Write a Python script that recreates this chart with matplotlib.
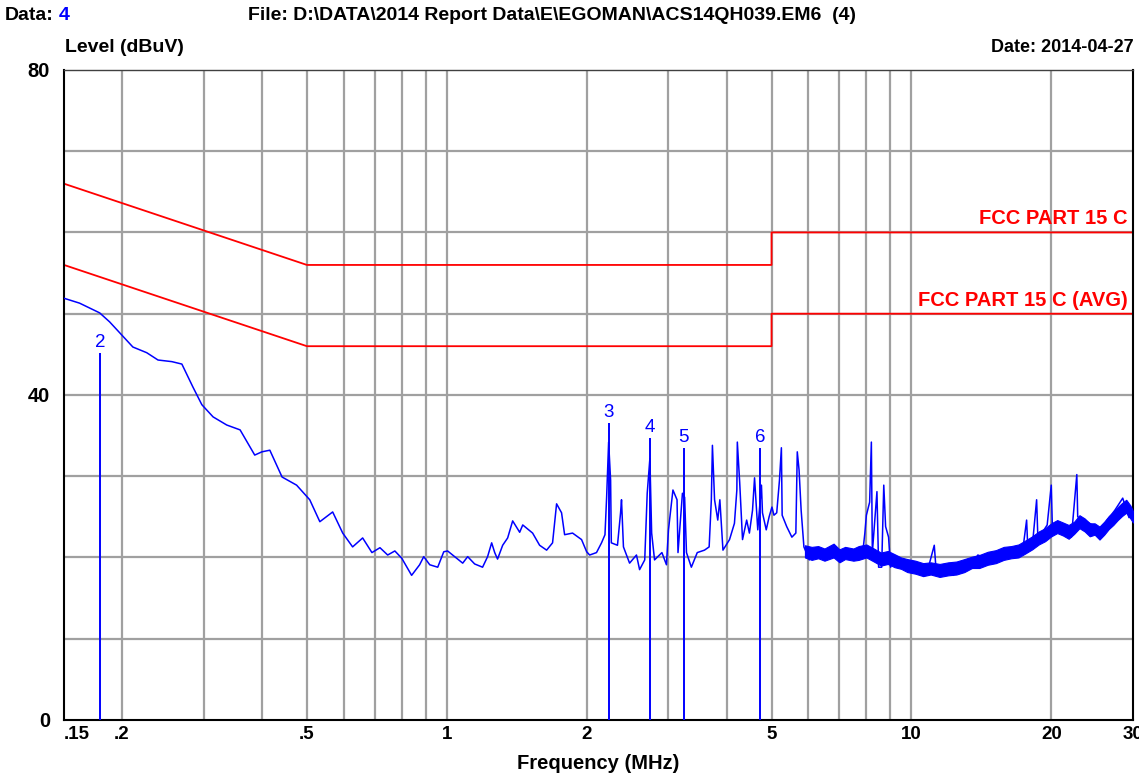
import numpy as np
import matplotlib
matplotlib.use("Agg")
import matplotlib.pyplot as plt
from matplotlib.ticker import FixedLocator, NullFormatter
from matplotlib.transforms import offset_copy

plt.rcParams['font.family'] = ['Liberation Sans', 'DejaVu Sans']

trace_f = [0.150, 0.162, 0.179, 0.188, 0.198, 0.211, 0.226, 0.239, 0.256, 0.269,
           0.284, 0.297, 0.314, 0.336, 0.359, 0.386, 0.400, 0.416, 0.442, 0.475,
           0.507, 0.533, 0.568, 0.597, 0.627, 0.659, 0.690, 0.718, 0.746, 0.773,
           0.800, 0.840, 0.874, 0.892, 0.919, 0.956, 0.985, 1.004, 1.082, 1.109,
           1.148, 1.194, 1.224, 1.249, 1.268, 1.286, 1.319, 1.352, 1.386, 1.435,
           1.457, 1.530, 1.584, 1.640, 1.689, 1.723, 1.766, 1.793, 1.865, 1.950,
           2.000, 2.030, 2.100, 2.153, 2.190, 2.208, 2.230, 2.252, 2.260, 2.330,
           2.366, 2.377, 2.400, 2.474, 2.560, 2.600, 2.667, 2.700, 2.736, 2.760,
           2.800, 2.904, 2.970, 3.000, 3.067, 3.130, 3.145, 3.215, 3.250, 3.280,
           3.360, 3.460, 3.586, 3.670, 3.710, 3.730, 3.770, 3.830, 3.870, 3.930,
           4.060, 4.160, 4.210, 4.220, 4.270, 4.330, 4.420, 4.480, 4.550, 4.596,
           4.670, 4.756, 4.780, 4.870, 4.940, 5.010, 5.060, 5.130, 5.200, 5.250,
           5.270, 5.390, 5.530, 5.640, 5.680, 5.730, 5.790, 5.870, 6.030, 6.180,
           6.330, 6.440, 6.730, 7.000, 7.250, 7.620, 7.860, 7.940, 8.000, 8.130,
           8.200, 8.240, 8.430, 8.500, 8.630, 8.720, 8.800, 8.930, 9.020, 9.240,
           9.520, 9.820, 10.30, 10.80, 11.20, 11.30, 11.90, 12.30, 12.90, 13.60,
           13.90, 14.50, 15.20, 15.90, 16.70, 17.40, 17.70, 17.80, 18.20, 18.60,
           18.70, 19.10, 19.60, 20.00, 20.10, 21.00, 22.10, 22.70, 22.80, 23.60,
           24.80, 25.60, 26.40, 27.40, 28.50, 29.40, 30.00]
trace_db = [51.9, 51.3, 50.1, 49.0, 47.6, 45.9, 45.2, 44.3, 44.1, 43.8,
            41.0, 38.8, 37.3, 36.3, 35.7, 32.6, 33.0, 33.2, 29.9, 28.9,
            27.1, 24.4, 25.6, 23.0, 21.3, 22.4, 20.6, 21.2, 20.3, 20.8,
            19.9, 17.8, 19.1, 20.1, 19.1, 18.8, 20.7, 20.8, 19.3, 20.1,
            19.2, 18.8, 20.1, 21.8, 20.6, 19.8, 21.5, 22.4, 24.5, 23.1,
            24.0, 23.0, 21.5, 20.9, 21.8, 26.6, 25.5, 22.8, 23.0, 22.2,
            20.7, 20.3, 20.6, 21.8, 22.8, 27.4, 34.2, 29.5, 21.8, 21.5,
            25.5, 27.1, 21.3, 19.3, 20.3, 18.5, 19.7, 27.9, 32.2, 23.0,
            19.7, 20.6, 19.1, 23.4, 28.3, 27.1, 20.6, 27.9, 27.4, 20.6,
            18.8, 20.6, 20.9, 21.3, 27.1, 33.8, 27.1, 24.6, 27.1, 20.9,
            22.2, 24.2, 28.3, 34.2, 29.2, 22.2, 24.6, 23.0, 25.8, 29.8,
            23.4, 28.9, 25.5, 23.4, 25.0, 26.2, 25.2, 25.5, 29.5, 33.5,
            25.2, 23.8, 22.5, 23.0, 33.0, 30.8, 25.8, 21.3, 19.7, 20.6,
            20.3, 20.3, 21.3, 19.7, 20.7, 20.3, 20.7, 23.0, 25.2, 26.8,
            34.2, 20.6, 28.1, 18.8, 18.8, 28.9, 23.8, 22.5, 18.8, 20.1,
            19.1, 18.8, 18.2, 18.1, 21.5, 18.5, 18.1, 17.8, 19.3, 19.4,
            20.3, 19.9, 20.6, 20.7, 20.7, 21.3, 24.6, 21.3, 21.3, 27.1,
            23.0, 23.0, 24.0, 28.9, 24.2, 23.4, 22.5, 30.2, 25.0, 24.6,
            23.8, 22.8, 24.6, 25.8, 27.3, 24.9, 25.5]

# dense noise band above ~6 MHz (lower / upper edge of the scribble)
band_f = [5.9, 6.1, 6.3, 6.5, 6.8, 7.0, 7.2, 7.5, 7.7, 8.0, 8.3, 8.6, 8.9, 9.2, 9.5, 9.8,
          10.2, 10.6, 11.0, 11.5, 12.0, 12.5, 13.0, 13.5, 14.0, 14.6, 15.2, 15.8, 16.4,
          17.0, 17.6, 18.2, 18.8, 19.4, 20.0, 20.6, 21.2, 21.8, 22.4, 23.0, 23.6, 24.2,
          24.8, 25.4, 26.0, 26.6, 27.2, 27.8, 28.4, 29.0, 29.6, 30.0]
band_lo = [20.0, 19.7, 19.9, 19.6, 20.0, 19.4, 19.8, 19.6, 19.7, 20.0, 19.5, 19.0, 19.2,
           18.8, 18.6, 18.2, 18.0, 17.7, 17.9, 17.6, 17.8, 17.9, 18.2, 18.7, 18.7, 19.1,
           19.3, 19.7, 19.9, 20.0, 20.5, 21.0, 21.6, 22.0, 22.6, 23.0, 22.7, 22.3, 22.9,
           23.6, 23.2, 22.6, 22.8, 22.2, 22.8, 23.5, 24.0, 24.6, 25.1, 25.5, 24.8, 24.3]
band_hi = [21.5, 21.3, 21.4, 21.1, 21.7, 21.0, 21.3, 21.1, 21.4, 21.6, 21.1, 20.6, 20.8,
           20.4, 20.0, 19.8, 19.6, 19.3, 19.4, 19.2, 19.4, 19.5, 19.8, 20.1, 20.3, 20.7,
           20.9, 21.3, 21.4, 21.6, 22.1, 22.6, 23.2, 23.6, 24.2, 24.6, 24.3, 24.0, 24.4,
           25.2, 24.8, 24.2, 24.2, 23.8, 24.4, 25.1, 25.6, 26.2, 26.7, 27.1, 26.4, 25.7]

# FCC part 15 C limits
qp_f = [0.15, 0.5, 5.0, 5.0, 30.0]
qp_db = [66, 56, 56, 60, 60]
avg_f = [0.15, 0.5, 5.0, 5.0, 30.0]
avg_db = [56, 46, 46, 50, 50]

# peak markers
marker_id = ['2', '3', '4', '5', '6']
marker_f = [0.1795, 2.233, 2.736, 3.237, 4.725]
marker_db = [45.2, 36.6, 34.7, 33.5, 33.5]

xtick_vals = [0.15, 0.2, 0.5, 1, 2, 5, 10, 20, 30]
xtick_labels = ['.15', '.2', '.5', '1', '2', '5', '10', '20', '30']
xgrid_vals = [0.2, 0.3, 0.4, 0.5, 0.6, 0.7, 0.8, 0.9, 1, 2, 3, 4, 5, 6, 7, 8, 9, 10, 20]

blue = '#0000ff'
red = '#ff0000'

fig = plt.figure(figsize=(11.39, 7.78), dpi=100)
ax = fig.add_axes([0.0562, 0.0746, 0.9386, 0.8355])

ax.set_xscale('log')
ax.set_xlim(0.15, 30)
ax.set_ylim(0, 80)

for g in xgrid_vals:
    ax.axvline(g, color='#a0a0a0', lw=1.6, zorder=0)
for g in range(10, 80, 10):
    ax.axhline(g, color='#a0a0a0', lw=1.6, zorder=0)

ax.plot(qp_f, qp_db, color=red, lw=1.3, zorder=2)
ax.plot(avg_f, avg_db, color=red, lw=1.3, zorder=2)

ax.fill_between(band_f, band_lo, band_hi, color=blue, lw=0.8, zorder=3)
ax.plot(trace_f, trace_db, color=blue, lw=1.1, zorder=3)

ax.vlines(marker_f, 0, marker_db, color=blue, lw=1.4, zorder=4)
for m, f, d in zip(marker_id, marker_f, marker_db):
    ax.text(f, d + 0.2, m, color=blue, fontsize=13.5, ha='center', va='bottom')

ax.text(29.2, 60.5, 'FCC PART 15 C', color=red, fontsize=14.5, fontweight='bold',
        ha='right', va='bottom')
ax.text(29.2, 50.5, 'FCC PART 15 C (AVG)', color=red, fontsize=14.5, fontweight='bold',
        ha='right', va='bottom')

ax.xaxis.set_major_locator(FixedLocator(xtick_vals))
ax.xaxis.set_minor_locator(FixedLocator([]))
ax.xaxis.set_minor_formatter(NullFormatter())
ax.set_xticklabels(xtick_labels, fontsize=13.5, fontweight='bold')
ax.get_xticklabels()[0].set_horizontalalignment('left')
ax.set_yticks([0, 40, 80])
ax.set_yticklabels(['0', '40', '80'], fontsize=14.5, fontweight='bold')
ax.tick_params(length=0, pad=4)
ax.tick_params(axis='y', pad=10)

for s in ax.spines.values():
    s.set_color('black')
    s.set_linewidth(1.5)
ax.spines['top'].set_color('#404040')
ax.spines['top'].set_linewidth(1.0)

ax.set_xlabel('Frequency (MHz)', fontsize=14.5, fontweight='bold', labelpad=8)

hdr = 14
t_data = fig.text(5 / 1139, 1 - 15 / 778, 'Data:', fontsize=hdr, fontweight='bold', va='center')
renderer = fig.canvas.get_renderer()
w = t_data.get_window_extent(renderer=renderer).width
fig.text(5 / 1139, 1 - 15 / 778, '4', fontsize=hdr, fontweight='bold', color=blue, va='center',
         transform=offset_copy(fig.transFigure, fig=fig, x=w + 5, y=0, units='dots'))
fig.text(248 / 1139, 1 - 15 / 778, r'File: D:\DATA\2014 Report Data\E\EGOMAN\ACS14QH039.EM6  (4)',
         fontsize=hdr, fontweight='bold', va='center')
fig.text(65 / 1139, 1 - 48 / 778, 'Level (dBuV)', fontsize=hdr, fontweight='bold', va='center')
fig.text(1134 / 1139, 1 - 48 / 778, 'Date: 2014-04-27', fontsize=13, fontweight='bold',
         va='center', ha='right')

fig.savefig('out.png', dpi=100)
